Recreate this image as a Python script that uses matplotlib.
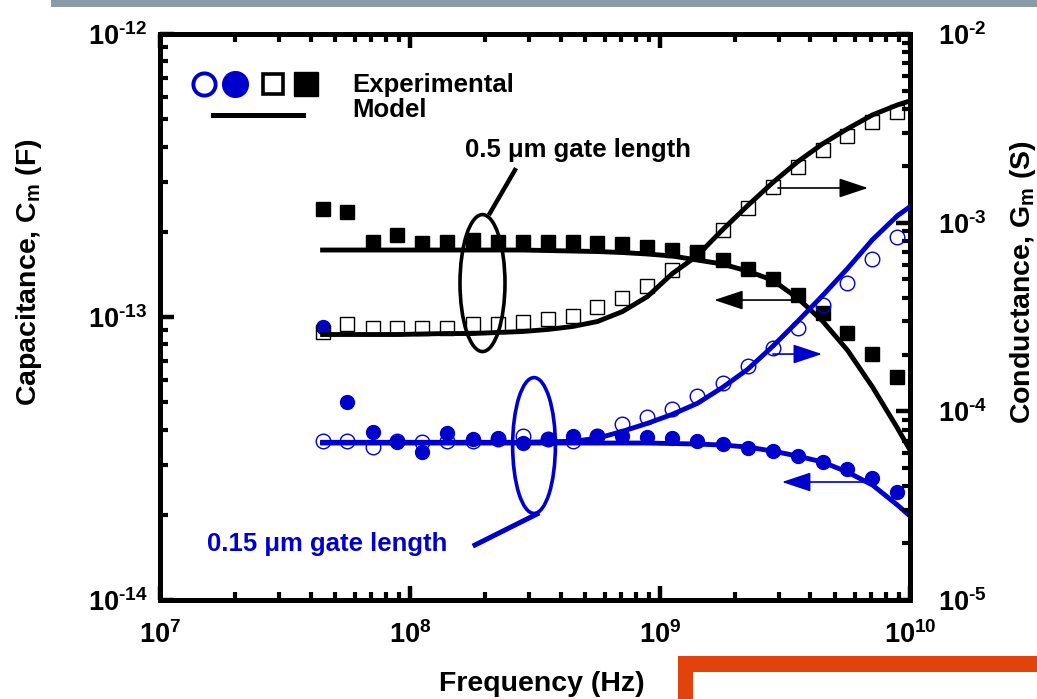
import numpy as np
import matplotlib.pyplot as plt
from matplotlib.patches import Ellipse, Rectangle
from matplotlib.ticker import NullFormatter

plt.rcParams.update({
    'font.family': ['Liberation Sans', 'DejaVu Sans'],
    'font.weight': 'bold',
    'mathtext.fontset': 'custom',
    'mathtext.rm': 'Liberation Sans:bold',
    'mathtext.it': 'Liberation Sans:bold',
    'mathtext.bf': 'Liberation Sans:bold',
})

# measured frequencies (Hz)
freq_hz = [4.47e7, 5.62e7, 7.08e7, 8.91e7, 1.12e8, 1.41e8, 1.78e8, 2.24e8,
           2.82e8, 3.55e8, 4.47e8, 5.62e8, 7.08e8, 8.91e8, 1.12e9, 1.41e9,
           1.78e9, 2.24e9, 2.82e9, 3.55e9, 4.47e9, 5.62e9, 7.08e9, 8.91e9]

# 0.5 um gate: Cm (filled squares, left) and Gm (open squares, right)
cap_05_exp = [2.41e-13, 2.35e-13, 1.84e-13, 1.95e-13, 1.83e-13, 1.84e-13, 1.87e-13, 1.84e-13,
              1.84e-13, 1.84e-13, 1.84e-13, 1.83e-13, 1.81e-13, 1.77e-13, 1.73e-13, 1.68e-13,
              1.59e-13, 1.48e-13, 1.36e-13, 1.20e-13, 1.03e-13, 8.78e-14, 7.40e-14, 6.14e-14]
cond_05_exp = [2.65e-4, 2.89e-4, 2.78e-4, 2.78e-4, 2.78e-4, 2.78e-4, 2.89e-4, 2.89e-4,
               2.96e-4, 3.07e-4, 3.22e-4, 3.59e-4, 4.01e-4, 4.64e-4, 5.64e-4, 7.02e-4,
               9.18e-4, 1.20e-3, 1.55e-3, 1.98e-3, 2.43e-3, 2.89e-3, 3.42e-3, 3.87e-3]

# 0.15 um gate: Cm (filled circles, left) and Gm (open circles, right)
cap_015_exp = [9.22e-14, 5.01e-14, 3.92e-14, 3.62e-14, 3.33e-14, 3.89e-14, 3.71e-14, 3.74e-14,
               3.59e-14, 3.71e-14, 3.80e-14, 3.80e-14, 3.80e-14, 3.77e-14, 3.74e-14, 3.65e-14,
               3.56e-14, 3.44e-14, 3.36e-14, 3.23e-14, 3.07e-14, 2.90e-14, 2.70e-14, 2.41e-14]
cond_015_exp = [6.94e-5, 6.94e-5, 6.45e-5, 6.94e-5, 6.86e-5, 6.94e-5, 6.94e-5, 7.11e-5,
                7.37e-5, 7.11e-5, 6.94e-5, 7.37e-5, 8.53e-5, 9.30e-5, 1.03e-4, 1.20e-4,
                1.42e-4, 1.73e-4, 2.18e-4, 2.78e-4, 3.68e-4, 4.81e-4, 6.45e-4, 8.43e-4]

# model curves
model_freq_hz = freq_hz + [1.0e10]
cap_05_model = [1.725e-13] * 9 + [1.718e-13, 1.711e-13, 1.704e-13, 1.690e-13, 1.670e-13,
                                  1.643e-13, 1.590e-13, 1.539e-13, 1.453e-13, 1.351e-13,
                                  1.167e-13, 9.68e-14, 7.64e-14, 5.66e-14, 4.05e-14, 3.39e-14]
cond_05_model = [2.555e-4, 2.555e-4, 2.555e-4, 2.555e-4, 2.571e-4, 2.586e-4, 2.586e-4,
                 2.618e-4, 2.650e-4, 2.716e-4, 2.817e-4, 2.994e-4, 3.381e-4, 4.060e-4,
                 5.373e-4, 6.69e-4, 9.18e-4, 1.230e-3, 1.628e-3, 2.102e-3, 2.618e-3,
                 3.144e-3, 3.727e-3, 4.210e-3, 4.42e-3]
cap_015_model = [3.587e-14] * 14 + [3.573e-14, 3.558e-14, 3.529e-14, 3.472e-14, 3.361e-14,
                                    3.227e-14, 3.074e-14, 2.833e-14, 2.549e-14, 2.166e-14,
                                    1.980e-14]
cond_015_model = [6.855e-5] * 9 + [6.90e-5, 6.94e-5, 7.20e-5, 7.84e-5, 8.64e-5, 9.64e-5,
                                   1.102e-4, 1.340e-4, 1.668e-4, 2.207e-4, 2.994e-4,
                                   4.110e-4, 5.708e-4, 8.13e-4, 1.089e-3, 1.215e-3]

x_ticks = [1e7, 1e8, 1e9, 1e10]
x_labels = [r'$10^{7}$', r'$10^{8}$', r'$10^{9}$', r'$10^{10}$']
cap_ticks = [1e-14, 1e-13, 1e-12]
cap_labels = ['$10^{\u201014}$', '$10^{\u201013}$', '$10^{\u201012}$']
cond_ticks = [1e-5, 1e-4, 1e-3, 1e-2]
cond_labels = ['$10^{\u20105}$', '$10^{\u20104}$', '$10^{\u20103}$', '$10^{\u20102}$']

blue = '#0000CC'

fig = plt.figure(figsize=(10.37, 6.99), dpi=100)
ax = fig.add_axes([0.1543, 0.1416, 0.7232, 0.8097])
ax2 = ax.twinx()

ax.plot(freq_hz, cap_05_exp, 's', color='k', ms=10.5, zorder=2)
ax.plot(freq_hz, cap_015_exp, 'o', color=blue, ms=10, zorder=2)
ax.plot(model_freq_hz, cap_05_model, '-', color='k', lw=3.5, zorder=3)
ax.plot(model_freq_hz, cap_015_model, '-', color=blue, lw=3.5, zorder=3)

ax2.plot(freq_hz, cond_05_exp, 's', mfc='none', mec='k', ms=10.5, mew=1.0, zorder=2)
ax2.plot(freq_hz, cond_015_exp, 'o', mfc='none', mec=blue, ms=10.5, mew=1.0, zorder=2)
ax2.plot(model_freq_hz, cond_05_model, '-', color='k', lw=3.5, zorder=3)
ax2.plot(model_freq_hz, cond_015_model, '-', color=blue, lw=3.5, zorder=3)

ax.set_xscale('log')
ax.set_yscale('log')
ax2.set_yscale('log')
ax.set_xlim(1e7, 1e10)
ax.set_ylim(1e-14, 1e-12)
ax2.set_ylim(1e-5, 1e-2)

ax.set_xticks(x_ticks, labels=x_labels)
ax.set_yticks(cap_ticks, labels=cap_labels)
ax2.set_yticks(cond_ticks, labels=cond_labels)
ax.xaxis.set_minor_formatter(NullFormatter())
ax.yaxis.set_minor_formatter(NullFormatter())
ax2.yaxis.set_minor_formatter(NullFormatter())

ax.tick_params(which='major', direction='in', length=10, width=3.2, labelsize=19.5)
ax.tick_params(which='minor', direction='in', length=5.5, width=3)
ax.tick_params(axis='x', which='both', top=True, pad=15)
ax.tick_params(axis='y', which='both', right=False, pad=9)
ax2.tick_params(which='major', direction='in', length=10, width=3.2, labelsize=19.5, pad=20)
ax2.tick_params(which='minor', direction='in', length=5.5, width=3)
for a in (ax, ax2):
    for s in a.spines.values():
        s.set_linewidth(3.6)

# legend
tr = ax2.transAxes
ax2.plot([0.058], [0.911], 'o', mfc='none', mec=blue, ms=16, mew=2.8, transform=tr, clip_on=False)
ax2.plot([0.100], [0.911], 'o', color=blue, ms=18.5, transform=tr, clip_on=False)
ax2.plot([0.1513], [0.911], 's', mfc='none', mec='k', ms=15, mew=2.6, transform=tr, clip_on=False)
ax2.plot([0.1947], [0.911], 's', color='k', ms=17.5, transform=tr, clip_on=False)
ax2.plot([0.0707, 0.1907], [0.857, 0.857], '-', color='k', lw=3.6, transform=tr)
ax2.text(0.256, 0.8975, 'Experimental', transform=tr, fontsize=18.5, va='baseline')
ax2.text(0.256, 0.8534, 'Model', transform=tr, fontsize=18.5, va='baseline')

# gate length annotations
ax2.text(0.4067, 0.7827, '0.5 \u03bcm gate length', transform=tr, fontsize=18.5, va='baseline')
ax2.add_patch(Ellipse((0.43, 0.56), 0.06, 0.242, transform=tr, fill=False, ec='k', lw=2.6))
ax2.plot([0.44, 0.4733], [0.6837, 0.7597], '-', color='k', lw=3.2, transform=tr)

ax2.text(0.0627, 0.0866, '0.15 \u03bcm gate length', transform=tr, fontsize=18.5,
         va='baseline', color=blue)
ax2.add_patch(Ellipse((0.4987, 0.273), 0.057, 0.24, transform=tr, fill=False, ec=blue, lw=2.6))
ax2.plot([0.42, 0.5027], [0.0972, 0.152], '-', color=blue, lw=3.6, transform=tr)

# axis arrows
arrow_kw = dict(arrowstyle='-|>,head_length=1.8,head_width=0.6', mutation_scale=10,
                lw=1.2, shrinkA=0, shrinkB=0)
ax2.annotate('', xy=(0.944, 0.728), xytext=(0.824, 0.728), xycoords='axes fraction',
             arrowprops=dict(color='k', **arrow_kw))
ax2.annotate('', xy=(0.739, 0.530), xytext=(0.853, 0.530), xycoords='axes fraction',
             arrowprops=dict(color='k', **arrow_kw))
ax2.annotate('', xy=(0.8827, 0.4346), xytext=(0.8173, 0.4346), xycoords='axes fraction',
             arrowprops=dict(color=blue, **arrow_kw))
ax2.annotate('', xy=(0.8293, 0.2085), xytext=(0.9427, 0.2085), xycoords='axes fraction',
             arrowprops=dict(color=blue, **arrow_kw))

# axis titles
fig.text(0.028, 0.611, 'Capacitance, C$_\\mathrm{m}$ (F)', rotation=90, fontsize=20.5,
         ha='center', va='center')
fig.text(0.9865, 0.597, 'Conductance, G$_\\mathrm{m}$ (S)', rotation=90, fontsize=20.5,
         ha='center', va='center')
fig.text(0.5227, 0.011, 'Frequency (Hz)', fontsize=20.5, ha='center', va='baseline')

# slide decorations
fig.add_artist(Rectangle((51 / 1037, 1 - 7 / 699), 1.0, 7 / 699, transform=fig.transFigure,
                         color='#899AA8', lw=0))
fig.add_artist(Rectangle((0.6538, 0.0386), 0.5, 0.0229, transform=fig.transFigure,
                         color='#E2430C', lw=0))
fig.add_artist(Rectangle((0.6538, 0.0), 0.01446, 0.0615, transform=fig.transFigure,
                         color='#E2430C', lw=0))

fig.savefig('out.png', dpi=100)
